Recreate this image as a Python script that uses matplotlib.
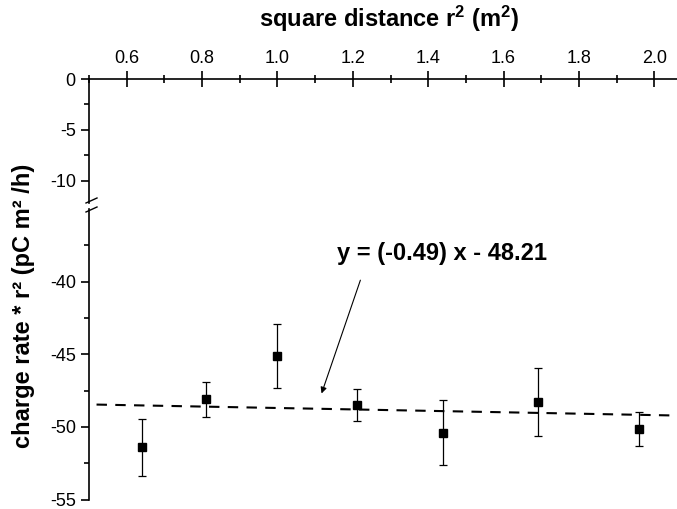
import numpy as np
import matplotlib
matplotlib.use("Agg")
import matplotlib.pyplot as plt
from matplotlib.ticker import MultipleLocator, FixedLocator
from matplotlib.lines import Line2D

plt.rcParams['font.family'] = ['Liberation Sans', 'DejaVu Sans']
plt.rcParams['mathtext.default'] = 'regular'
plt.rcParams['axes.unicode_minus'] = False

# measured values: square distance r^2 vs charge rate * r^2
r2 = [0.64, 0.81, 1.00, 1.21, 1.44, 1.69, 1.96]
rate_r2 = [-51.4, -48.1, -45.1, -48.5, -50.4, -48.3, -50.15]
rate_err = [1.95, 1.2, 2.2, 1.1, 2.25, 2.35, 1.2]

# linear fit y = a x + b
fit_a = -0.49
fit_b = -48.21
fit_x = [0.52, 2.05]
fit_label = "y = (-0.49) x - 48.21"

x_ticks = [0.6, 0.8, 1.0, 1.2, 1.4, 1.6, 1.8, 2.0]
top_yticks = [0, -5, -10]
bot_yticks = [-40, -45, -50, -55]

W, H = 677, 509
fig = plt.figure(figsize=(W / 100, H / 100), dpi=100)


def fy(px):
    return 1 - px / H


left = 89 / W
ax_top = fig.add_axes([left, fy(203.4), 1 - left, fy(79) - fy(203.4)])
ax_bot = fig.add_axes([left, fy(499.5), 1 - left, fy(209) - fy(499.5)])

for ax in (ax_top, ax_bot):
    ax.set_xlim(0.5, 2.06)
    ax.spines['right'].set_visible(False)
    ax.spines['bottom'].set_visible(False)
    ax.spines['left'].set_linewidth(1.2)
    ax.spines['top'].set_linewidth(1.2)
    ax.tick_params(axis='y', which='major', direction='out', length=6, width=1.2,
                   labelsize=13, pad=3.5)
    ax.tick_params(axis='y', which='minor', direction='out', length=3.6, width=1.2)
    ax.patch.set_visible(False)

ax_bot.spines['top'].set_visible(False)
ax_bot.tick_params(axis='x', which='both', bottom=False, top=False,
                   labelbottom=False, labeltop=False)

ax_top.set_ylim(-12.2, 0)
ax_top.yaxis.set_major_locator(FixedLocator(top_yticks))
ax_top.yaxis.set_minor_locator(FixedLocator([-2.5, -7.5]))
ax_top.xaxis.set_major_locator(FixedLocator(x_ticks))
ax_top.xaxis.set_minor_locator(MultipleLocator(0.1))
ax_top.xaxis.set_ticks_position('top')
ax_top.tick_params(axis='x', which='major', direction='inout', length=11, width=1.2,
                   labelsize=13, pad=3)
ax_top.tick_params(axis='x', which='minor', direction='inout', length=6, width=1.2)
ax_top.set_xticklabels([f"{v:.1f}" for v in x_ticks])

ax_bot.set_ylim(-55, -35)
ax_bot.yaxis.set_major_locator(FixedLocator(bot_yticks))
ax_bot.yaxis.set_minor_locator(FixedLocator([-37.5, -42.5, -47.5, -52.5]))

# data
ax_bot.errorbar(r2, rate_r2, yerr=rate_err, fmt='s', color='black', ms=6,
                ecolor='black', elinewidth=0.9, capsize=3, capthick=0.9, zorder=3)
xf = np.array(fit_x)
ax_bot.plot(xf, fit_a * xf + fit_b, color='black', lw=1.5, ls=(0, (5, 4)))

ax_bot.text(1.157, -38.49, fit_label, fontsize=17, fontweight='bold',
            ha='left', va='baseline')
ax_bot.annotate('', xy=(1.117, -47.7), xytext=(1.22, -39.9),
                arrowprops=dict(arrowstyle='-|>', color='black', lw=0.8,
                                mutation_scale=9, shrinkA=0, shrinkB=0))

# axis break marks
for yp in (203, 212):
    fig.add_artist(Line2D([86 / W, 97 / W], [fy(yp), fy(yp - 5)],
                          color='black', lw=1.0, transform=fig.transFigure))

fig.text(24 / W, fy(306), "charge rate * r² (pC m² /h)", rotation=90,
         fontsize=17, fontweight='bold', ha='center', va='center')
fig.text(389 / W, fy(27), "square distance r$^2$ (m$^2$)",
         fontsize=17, fontweight='bold', ha='center', va='baseline')

fig.savefig("out.png", dpi=100)
